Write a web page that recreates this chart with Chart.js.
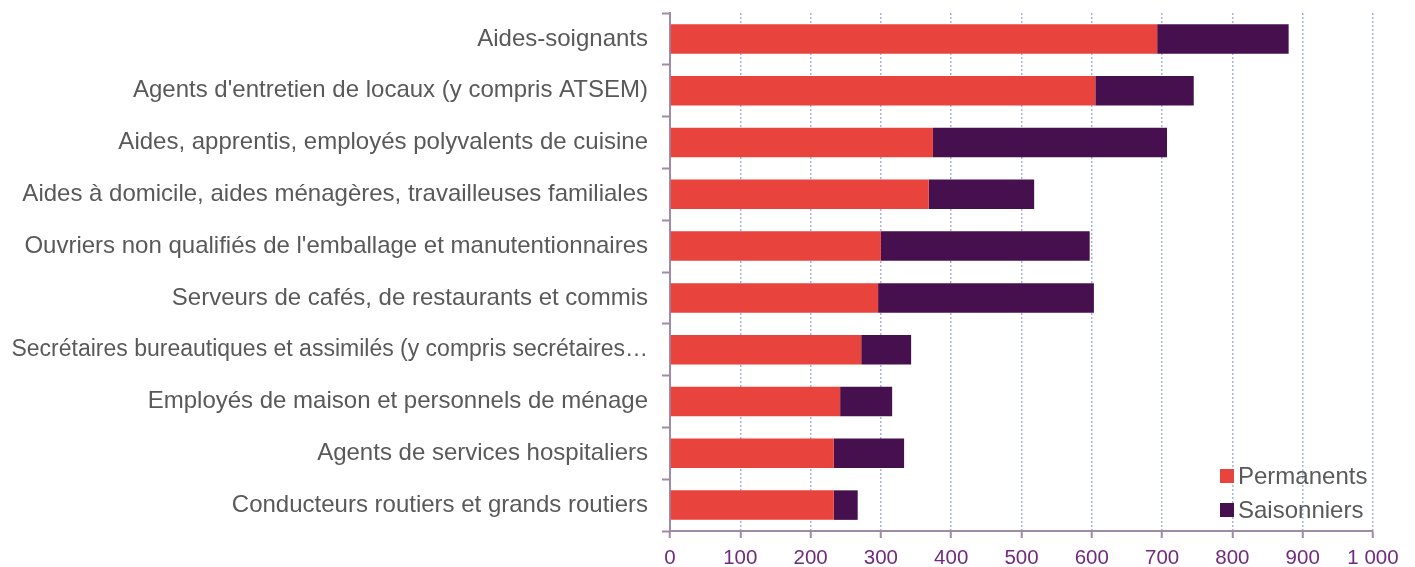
<!DOCTYPE html>
<html>
<head>
<meta charset="utf-8">
<script src="https://cdn.jsdelivr.net/npm/chart.js@4/dist/chart.umd.min.js"></script>
<style>
  html, body { margin: 0; padding: 0; background: #fff; }
  #wrap { width: 1415px; height: 567px; }
</style>
</head>
<body>
<div id="wrap"><canvas id="chart"></canvas></div>
<script>
const categories = [
    "Aides-soignants",
    "Agents d'entretien de locaux (y compris ATSEM)",
    "Aides, apprentis, employés polyvalents de cuisine",
    "Aides à domicile, aides ménagères, travailleuses familiales",
    "Ouvriers non qualifiés de l'emballage et manutentionnaires",
    "Serveurs de cafés, de restaurants et commis",
    "Secrétaires bureautiques et assimilés (y compris secrétaires…",
    "Employés de maison et personnels de ménage",
    "Agents de services hospitaliers",
    "Conducteurs routiers et grands routiers"
];
const permanents = [693, 605, 374, 368, 300, 296, 272, 242, 233, 233];
const saisonniers = [187, 140, 333, 150, 297, 307, 71, 74, 100, 34];
const xTicks = [0, 100, 200, 300, 400, 500, 600, 700, 800, 900, 1000];

const labelFont = "'Liberation Sans', Arial, sans-serif";

// legend drawn inside the chart area, bottom right
const cornerLegend = {
    id: 'cornerLegend',
    afterDraw(chart) {
        const { ctx, chartArea } = chart;
        const sets = chart.data.datasets;
        ctx.save();
        ctx.font = "24px " + labelFont;
        ctx.textBaseline = 'middle';
        const x = chartArea.right - 153;
        sets.forEach((ds, i) => {
            const cy = chartArea.bottom - 55 + i * 34;
            ctx.fillStyle = ds.backgroundColor;
            ctx.fillRect(x, cy - 7, 14, 14);
            ctx.fillStyle = '#595959';
            ctx.fillText(ds.label, x + 18, cy + 1);
        });
        ctx.restore();
    }
};

const config = {
    type: 'bar',
    data: {
        labels: categories,
        datasets: [
            {
                label: 'Permanents',
                data: permanents,
                backgroundColor: '#e8433c',
                barPercentage: 0.57,
                categoryPercentage: 1
            },
            {
                label: 'Saisonniers',
                data: saisonniers,
                backgroundColor: '#46104f',
                barPercentage: 0.57,
                categoryPercentage: 1
            }
        ]
    },
    options: {
        indexAxis: 'y',
        responsive: true,
        maintainAspectRatio: false,
        animation: false,
        layout: {
            padding: { top: 13, left: 0, right: 42, bottom: 0 }
        },
        plugins: {
            legend: { display: false },
            tooltip: { enabled: false }
        },
        scales: {
            x: {
                stacked: true,
                min: 0,
                max: 1000,
                afterBuildTicks: axis => {
                    axis.ticks = xTicks.map(v => ({ value: v }));
                },
                afterFit: axis => { axis.height = 36; },
                border: {
                    display: true,
                    color: '#9f8aa8',
                    width: 2,
                    dash: [2, 2]
                },
                grid: {
                    color: ctx => ctx.index === 0 ? 'rgba(0,0,0,0)' : '#aab0e2',
                    lineWidth: 1.5,
                    drawTicks: true,
                    tickLength: 7,
                    tickColor: '#9f8aa8',
                    tickWidth: 2,
                    tickBorderDash: []
                },
                ticks: {
                    color: '#722a7e',
                    padding: 8,
                    font: { family: labelFont, size: 20.5 },
                    callback: v => v >= 1000 ? String(v).replace(/(\d)(\d{3})$/, '$1 $2') : v
                }
            },
            y: {
                stacked: true,
                offset: true,
                afterFit: axis => {
                    axis.width = 670;
                    axis.paddingTop = 0;
                    axis.paddingBottom = 0;
                },
                border: {
                    display: true,
                    color: '#9f8aa8',
                    width: 2
                },
                grid: {
                    offset: true,
                    drawOnChartArea: false,
                    drawTicks: true,
                    tickLength: 8,
                    tickColor: '#9f8aa8',
                    tickWidth: 2
                },
                ticks: {
                    color: '#595959',
                    padding: 14,
                    autoSkip: false,
                    font: ctx => ({ family: labelFont, size: ctx.index === 6 ? 23 : 24 })
                }
            }
        }
    },
    plugins: [cornerLegend]
};

new Chart(document.getElementById('chart').getContext('2d'), config);
</script>
</body>
</html>
